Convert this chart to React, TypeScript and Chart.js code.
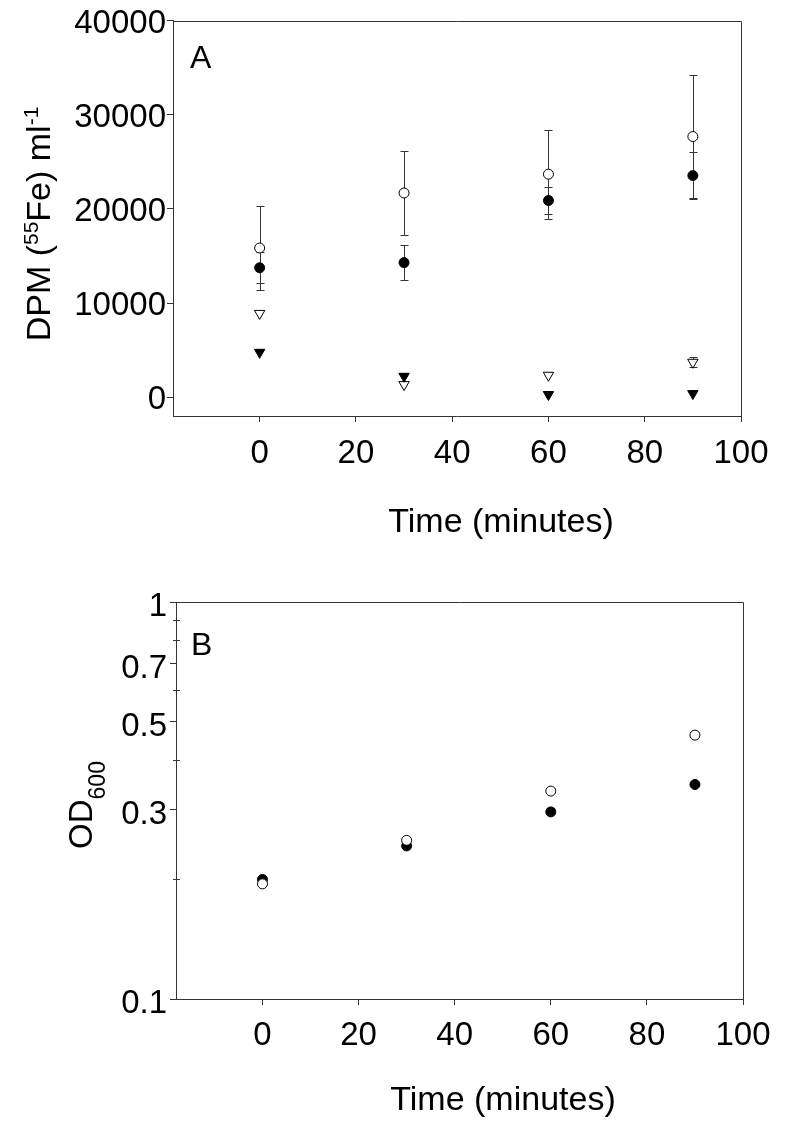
import React, { useEffect, useRef } from 'react';
import { Chart, registerables } from 'chart.js';

Chart.register(...registerables);

const FONT = "'Liberation Sans', Arial, Helvetica, sans-serif";
const INK = '#000000';
const AXIS = '#333333';
const TICK_SIZE = 33;

// ---------- data ----------
const timeMin = [0, 30, 60, 90];
const xTickValues = [0, 20, 40, 60, 80, 100];

// Panel A: DPM (55Fe) ml-1
const dpmOpenCircle = [15850, 21700, 23700, 27700];
const dpmOpenCircleErr = [4450, 4450, 4730, 6490];
const dpmFilledCircle = [13750, 14300, 20900, 23550];
const dpmFilledCircleErr = [1630, 1880, 1450, 2470];
const dpmOpenTriangle = [8900, 1340, 2330, 3710];
const dpmOpenTriangleErr = [0, 0, 0, 530];
const dpmFilledTriangle = [4770, 2220, 280, 380];
const dpmTickValues = [0, 10000, 20000, 30000, 40000];

// Panel B: OD600
const odOpenCircle = [0.195, 0.251, 0.334, 0.462];
const odFilledCircle = [0.2, 0.243, 0.296, 0.347];
const odTickValues = [0.1, 0.2, 0.3, 0.4, 0.5, 0.6, 0.7, 0.8, 0.9, 1];
const odLabelled = [0.1, 0.3, 0.5, 0.7, 1];

const toPoints = (ys: number[]) => ys.map((y, i) => ({ x: timeMin[i], y }));
const isLabelled = (v: number) => odLabelled.some((l) => Math.abs(l - v) < 1e-9);

// ---------- helpers ----------
type Seg = { t: string; size: number; dy: number };

function drawRich(ctx: CanvasRenderingContext2D, segs: Seg[], x: number, y: number, rotate: boolean) {
  ctx.save();
  ctx.translate(x, y);
  if (rotate) ctx.rotate(-Math.PI / 2);
  ctx.fillStyle = INK;
  ctx.textAlign = 'left';
  ctx.textBaseline = 'alphabetic';
  const widths = segs.map((s) => {
    ctx.font = `${s.size}px ${FONT}`;
    return ctx.measureText(s.t).width;
  });
  const total = widths.reduce((a, b) => a + b, 0);
  let cx = -total / 2;
  segs.forEach((s, i) => {
    ctx.font = `${s.size}px ${FONT}`;
    ctx.fillText(s.t, cx, s.dy);
    cx += widths[i];
  });
  ctx.restore();
}

const errorBarPlugin = {
  id: 'errorBars',
  beforeDatasetsDraw(chart: any) {
    const { ctx } = chart;
    const xs = chart.scales.x;
    const ys = chart.scales.y;
    ctx.save();
    ctx.strokeStyle = AXIS;
    ctx.lineWidth = 1;
    chart.data.datasets.forEach((ds: any) => {
      const errs: number[] | undefined = ds.errors;
      if (!errs) return;
      ds.data.forEach((p: any, i: number) => {
        const e = errs[i];
        if (!e) return;
        const px = Math.round(xs.getPixelForValue(p.x)) + 0.5;
        const t = Math.round(ys.getPixelForValue(p.y + e)) + 0.5;
        const b = Math.round(ys.getPixelForValue(p.y - e)) + 0.5;
        ctx.beginPath();
        ctx.moveTo(px, t);
        ctx.lineTo(px, b);
        ctx.moveTo(px - 4, t);
        ctx.lineTo(px + 4, t);
        ctx.moveTo(px - 4, b);
        ctx.lineTo(px + 4, b);
        ctx.stroke();
      });
    });
    ctx.restore();
  },
};

const framePlugin = {
  id: 'frame',
  afterDraw(chart: any) {
    const { ctx, chartArea } = chart;
    const { left, top, right, bottom } = chartArea;
    ctx.save();
    ctx.strokeStyle = AXIS;
    ctx.lineWidth = 1;
    ctx.beginPath();
    ctx.moveTo(Math.round(left), Math.round(top) + 0.5);
    ctx.lineTo(Math.round(right) + 0.5, Math.round(top) + 0.5);
    ctx.lineTo(Math.round(right) + 0.5, Math.round(bottom));
    ctx.stroke();
    ctx.restore();
  },
};

const textPlugin = (id: string, draw: (chart: any) => void) => ({
  id,
  afterDraw(chart: any) {
    draw(chart);
  },
});

const circleOpen = { pointStyle: 'circle', pointRadius: 5, pointBackgroundColor: '#ffffff', pointBorderColor: INK, pointBorderWidth: 1 };
const circleFilled = { pointStyle: 'circle', pointRadius: 5, pointBackgroundColor: INK, pointBorderColor: INK, pointBorderWidth: 1 };
const triOpen = { pointStyle: 'triangle', pointRotation: 180, pointRadius: 6, pointBackgroundColor: '#ffffff', pointBorderColor: INK, pointBorderWidth: 1 };
const triFilled = { pointStyle: 'triangle', pointRotation: 180, pointRadius: 6, pointBackgroundColor: INK, pointBorderColor: INK, pointBorderWidth: 1 };

const gridOpts = { display: true, drawOnChartArea: false, drawTicks: true, tickLength: 6, color: AXIS, tickColor: AXIS, lineWidth: 1 };
const borderOpts = { display: true, color: AXIS, width: 1 };

function xScale(height: number, padding: number) {
  return {
    type: 'linear',
    min: -18,
    max: 100,
    afterBuildTicks: (s: any) => {
      s.ticks = xTickValues.map((v) => ({ value: v }));
    },
    afterFit: (s: any) => {
      s.height = height;
    },
    ticks: {
      autoSkip: false,
      maxRotation: 0,
      padding,
      color: INK,
      font: { family: FONT, size: TICK_SIZE },
      callback: (v: any) => String(v),
    },
    grid: gridOpts,
    border: borderOpts,
  };
}

function buildA(): any {
  return {
    type: 'scatter',
    data: {
      datasets: [
        { label: 'open circles', data: toPoints(dpmOpenCircle), errors: dpmOpenCircleErr, ...circleOpen },
        { label: 'filled circles', data: toPoints(dpmFilledCircle), errors: dpmFilledCircleErr, ...circleFilled },
        { label: 'filled triangles', data: toPoints(dpmFilledTriangle), ...triFilled },
        { label: 'open triangles', data: toPoints(dpmOpenTriangle), errors: dpmOpenTriangleErr, ...triOpen },
      ],
    },
    options: {
      responsive: false,
      animation: false,
      devicePixelRatio: 1,
      layout: { padding: { top: 20, right: 45, left: 0, bottom: 0 } },
      plugins: { legend: { display: false }, tooltip: { enabled: false } },
      scales: {
        x: xScale(144, 12),
        y: {
          type: 'linear',
          min: -2000,
          max: 40000,
          afterBuildTicks: (s: any) => {
            s.ticks = dpmTickValues.map((v) => ({ value: v }));
          },
          afterFit: (s: any) => {
            s.width = 173;
          },
          ticks: {
            autoSkip: false,
            padding: 1,
            labelOffset: 3,
            color: INK,
            font: { family: FONT, size: TICK_SIZE },
            callback: (v: any) => String(v),
          },
          grid: gridOpts,
          border: borderOpts,
        },
      },
    },
    plugins: [
      errorBarPlugin,
      framePlugin,
      textPlugin('textA', (chart) => {
        const ctx = chart.ctx as CanvasRenderingContext2D;
        ctx.save();
        ctx.fillStyle = INK;
        ctx.font = `32px ${FONT}`;
        ctx.textAlign = 'left';
        ctx.textBaseline = 'alphabetic';
        ctx.fillText('A', 190, 68);
        ctx.restore();
        drawRich(
          ctx,
          [
            { t: 'DPM (', size: 34, dy: 0 },
            { t: '55', size: 21, dy: -12 },
            { t: 'Fe) ml', size: 34, dy: 0 },
            { t: '-1', size: 21, dy: -12 },
          ],
          50,
          224,
          true
        );
        drawRich(ctx, [{ t: 'Time (minutes)', size: 34, dy: 0 }], 501, 532, false);
      }),
    ],
  };
}

function buildB(): any {
  return {
    type: 'scatter',
    data: {
      datasets: [
        { label: 'open circles', data: toPoints(odOpenCircle), ...circleOpen },
        { label: 'filled circles', data: toPoints(odFilledCircle), ...circleFilled },
      ],
    },
    options: {
      responsive: false,
      animation: false,
      devicePixelRatio: 1,
      layout: { padding: { top: 42, right: 43, left: 0, bottom: 0 } },
      plugins: { legend: { display: false }, tooltip: { enabled: false } },
      scales: {
        x: xScale(131, 11),
        y: {
          type: 'logarithmic',
          min: 0.1,
          max: 1,
          afterBuildTicks: (s: any) => {
            s.ticks = odTickValues.map((v) => ({ value: v }));
          },
          afterFit: (s: any) => {
            s.width = 176;
          },
          ticks: {
            autoSkip: false,
            padding: 3,
            labelOffset: 5,
            color: INK,
            font: { family: FONT, size: TICK_SIZE },
            callback: (v: any) => (isLabelled(v) ? String(v) : ''),
          },
          grid: {
            ...gridOpts,
            tickColor: (c: any) => (c.tick && isLabelled(c.tick.value) ? AXIS : 'rgba(0,0,0,0)'),
          },
          border: borderOpts,
        },
      },
    },
    plugins: [
      framePlugin,
      textPlugin('textB', (chart) => {
        const ctx = chart.ctx as CanvasRenderingContext2D;
        const ys = chart.scales.y;
        const left = Math.round(chart.chartArea.left);
        ctx.save();
        ctx.strokeStyle = AXIS;
        ctx.lineWidth = 1;
        ctx.beginPath();
        odTickValues.forEach((v) => {
          if (isLabelled(v)) return;
          const py = Math.round(ys.getPixelForValue(v)) + 0.5;
          ctx.moveTo(left - 3, py);
          ctx.lineTo(left + 4, py);
        });
        ctx.stroke();
        ctx.fillStyle = INK;
        ctx.font = `32px ${FONT}`;
        ctx.textAlign = 'left';
        ctx.textBaseline = 'alphabetic';
        ctx.fillText('B', 191, 95);
        ctx.restore();
        drawRich(
          ctx,
          [
            { t: 'OD', size: 33, dy: 0 },
            { t: '600', size: 23, dy: 13 },
          ],
          92,
          245,
          true
        );
        drawRich(ctx, [{ t: 'Time (minutes)', size: 34, dy: 0 }], 503, 550, false);
      }),
    ],
  };
}

function ChartCanvas({ top, height, build }: { top: number; height: number; build: () => any }) {
  const ref = useRef<HTMLCanvasElement>(null);
  useEffect(() => {
    const chart = new Chart(ref.current as HTMLCanvasElement, build());
    return () => chart.destroy();
  }, []);
  return (
    <div style={{ position: 'absolute', left: 0, top, width: 786, height }}>
      <canvas ref={ref} width={786} height={height} style={{ display: 'block', width: 786, height }} />
    </div>
  );
}

export default function App() {
  return (
    <div>
      <ChartCanvas top={0} height={560} build={buildA} />
      <ChartCanvas top={560} height={570} build={buildB} />
    </div>
  );
}
